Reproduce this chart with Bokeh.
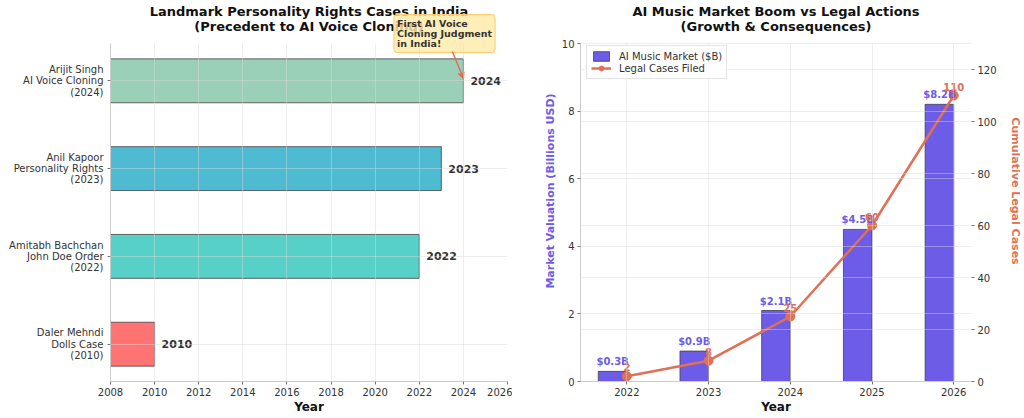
from bokeh.plotting import figure
from bokeh.models import (Range1d, FixedTicker, LinearAxis, Grid, Label, Arrow,
                          VeeHead, Legend, LegendItem, ColumnDataSource)
from bokeh.layouts import row
from bokeh.embed import file_html
from bokeh.resources import INLINE

# ---------------- data ----------------
case_labels = ["Daler Mehndi\nDolls Case\n(2010)",
               "Amitabh Bachchan\nJohn Doe Order\n(2022)",
               "Anil Kapoor\nPersonality Rights\n(2023)",
               "Arijit Singh\nAI Voice Cloning\n(2024)"]
case_years = [2010, 2022, 2023, 2024]
case_colors = ["#FF6B6B", "#4ECDC4", "#45B7D1", "#96CEB4"]
year_ticks_left = list(range(2008, 2027, 2))
left_title = ["Landmark Personality Rights Cases in India",
              "(Precedent to AI Voice Cloning)"]
callout_text = "First AI Voice\nCloning Judgment\nin India!"

market_years = [2022, 2023, 2024, 2025, 2026]
market_value = [0.3, 0.9, 2.1, 4.5, 8.2]
legal_cases = [2, 8, 25, 60, 110]
left_ticks_right = [0, 2, 4, 6, 8, 10]
case_ticks_right = [0, 20, 40, 60, 80, 100, 120]
right_title = ["AI Music Market Boom vs Legal Actions",
               "(Growth & Consequences)"]

FONT = "DejaVu Sans"
TXT = "#333333"
FRAME_H = 338      # height of the data area
TOP_PAD = 43       # space above the data area (title / callout), inside the frame
BOTTOM = 37
H = FRAME_H + TOP_PAD + BOTTOM


def style(p):
    p.background_fill_color = "white"
    p.border_fill_color = "white"
    p.outline_line_color = None
    for ax in p.axis:
        ax.major_label_text_font = FONT
        ax.major_label_text_font_size = "10px"
        ax.major_label_text_color = TXT
        ax.axis_label_text_font = FONT
        ax.axis_label_text_font_style = "bold"
        ax.axis_label_text_font_size = "12px"
        ax.axis_label_text_color = "#111111"
        ax.major_tick_in = 0
        ax.major_tick_out = 3
        ax.major_tick_line_color = "#777777"
        ax.minor_tick_line_color = None
        ax.axis_line_color = "#cccccc"
        ax.major_label_standoff = 3
        ax.axis_label_standoff = 1
    for g in p.grid:
        g.grid_line_color = "#d9d9d9"
        g.grid_line_alpha = 0.45
        g.level = "overlay"


def add_title(p, lines, xc, ytop, ppu):
    for i, line in enumerate(lines):
        p.add_layout(Label(x=xc, y=ytop + (32 - 14.5 * i) / ppu,
                           text=line, text_align="center", text_baseline="middle",
                           text_font=FONT, text_font_size="13px",
                           text_font_style="bold", text_color="#111111"))


# ---------------- left chart ----------------
Y0, Y1 = -0.425, 3.425
PPU1 = FRAME_H / (Y1 - Y0)
X0, X1 = 2008, 2026

pos = list(range(len(case_years)))
src1 = ColumnDataSource(dict(pos=pos, year=case_years, color=case_colors,
                             ylab=[str(y) for y in case_years]))
p1 = figure(width=512, height=H, x_range=Range1d(X0, X1),
            y_range=Range1d(Y0, Y1 + TOP_PAD / PPU1), output_backend="svg",
            toolbar_location=None, min_border_left=110, min_border_right=5,
            min_border_top=0, min_border_bottom=BOTTOM, title=None)
p1.hbar(y="pos", left=0, right="year", height=0.5, fill_color="color",
        fill_alpha=0.95, line_color="#444444", line_alpha=0.8, line_width=1,
        source=src1)
p1.text(x="year", y="pos", text="ylab", x_offset=7, text_baseline="middle",
        text_align="left", text_font_style="bold", text_font_size="11px",
        text_color=TXT, text_font={"value": FONT}, source=src1)
p1.xaxis.ticker = FixedTicker(ticks=year_ticks_left)
p1.yaxis.ticker = FixedTicker(ticks=pos)
p1.yaxis.major_label_overrides = {i: lab for i, lab in zip(pos, case_labels)}
p1.yaxis.bounds = (Y0, Y1)
p1.xaxis.axis_label = "Year"
style(p1)
p1.yaxis.major_label_text_line_height = 1.03
p1.yaxis.major_label_standoff = 4
p1.xgrid.cross_bounds = (Y0, Y1)

add_title(p1, left_title, (X0 + X1) / 2, Y1, PPU1)

p1.add_layout(Label(x=2020.85, y=Y1 + 29 / PPU1, text=callout_text,
                    text_font=FONT, text_font_size="9.5px", text_font_style="bold",
                    text_color=TXT, text_baseline="top", text_align="left",
                    text_line_height=0.95,
                    background_fill_color="#FFEAA7", background_fill_alpha=0.82,
                    border_line_color="#FDCB6E", border_line_width=1,
                    padding=3, border_radius=3))
p1.add_layout(Arrow(end=VeeHead(size=6, line_color="#E17055", line_width=1.5),
                    x_start=2023.5, y_start=3.334, x_end=2024.0, y_end=3.03,
                    line_color="#E17055", line_width=1.5))

# ---------------- right chart ----------------
bar_w = 0.35
V1, C1 = 10, 130
PPU2 = FRAME_H / V1
XR0, XR1 = 2021.4325, 2026.2175
src2 = ColumnDataSource(dict(
    year=market_years,
    bx=[y - bar_w / 2 for y in market_years],
    val=market_value,
    vlab=["$%sB" % v for v in market_value],
    cases=legal_cases,
    clab=[str(c) for c in legal_cases]))

p2 = figure(width=512, height=H, x_range=Range1d(XR0, XR1),
            y_range=Range1d(0, V1 + TOP_PAD / PPU2), output_backend="svg",
            toolbar_location=None, min_border_left=68, min_border_right=45,
            min_border_top=0, min_border_bottom=BOTTOM, title=None)
p2.extra_y_ranges = {"cases": Range1d(0, C1 + TOP_PAD * C1 / FRAME_H)}
bars = p2.vbar(x="bx", width=bar_w, top="val", bottom=0, fill_color="#6C5CE7",
               fill_alpha=1.0, line_color="#444444", line_alpha=0.8,
               source=src2)
ln = p2.line(x="year", y="cases", y_range_name="cases", line_color="#E17055",
             line_width=2.5, source=src2)
pts = p2.scatter(x="year", y="cases", y_range_name="cases", size=9,
                 fill_color="#E17055", line_color="#E17055", source=src2)
p2.text(x="bx", y="val", text="vlab", y_offset=-4, text_baseline="bottom",
        text_align="center", text_font_style="bold", text_font_size="10px",
        text_color="#6C5CE7", text_font={"value": FONT}, source=src2)
p2.text(x="year", y="cases", text="clab", y_range_name="cases", y_offset=-5,
        text_baseline="bottom", text_align="center", text_font_style="bold",
        text_font_size="10px", text_color="#E17055",
        text_font={"value": FONT}, source=src2)

rax = LinearAxis(y_range_name="cases", ticker=FixedTicker(ticks=case_ticks_right),
                 axis_label="Cumulative Legal Cases", bounds=(0, C1))
p2.add_layout(rax, "right")
p2.add_layout(Grid(dimension=1, ticker=rax.ticker, y_range_name="cases"))
p2.xaxis.ticker = FixedTicker(ticks=market_years)
p2.yaxis[0].ticker = FixedTicker(ticks=left_ticks_right)
p2.yaxis[0].bounds = (0, V1)
p2.xaxis.axis_label = "Year"
p2.yaxis[0].axis_label = "Market Valuation (Billions USD)"
style(p2)
p2.xgrid.cross_bounds = (0, V1)
p2.yaxis[0].axis_label_text_color = "#6C5CE7"
p2.yaxis[0].axis_label_text_font_size = "11px"
p2.yaxis[0].axis_label_standoff = 2
rax.axis_label_text_color = "#E17055"
rax.axis_label_text_font_size = "11px"
rax.axis_label_standoff = 9
rax.axis_line_color = None

add_title(p2, right_title, (XR0 + XR1) / 2, V1, PPU2)

legend = Legend(items=[LegendItem(label="AI Music Market ($B)", renderers=[bars]),
                       LegendItem(label="Legal Cases Filed", renderers=[ln, pts])],
                location=(6, FRAME_H - 4 - 32))
legend.label_text_font = FONT
legend.label_text_font_size = "10px"
legend.label_text_color = TXT
legend.glyph_height = 12
legend.glyph_width = 20
legend.label_height = 12
legend.spacing = 0
legend.padding = 4
legend.margin = 0
legend.label_standoff = 8
legend.border_line_color = "#cccccc"
legend.background_fill_alpha = 0.85
p2.add_layout(legend)

layout = row(p1, p2)
open("out.html", "w").write(file_html(layout, INLINE))
